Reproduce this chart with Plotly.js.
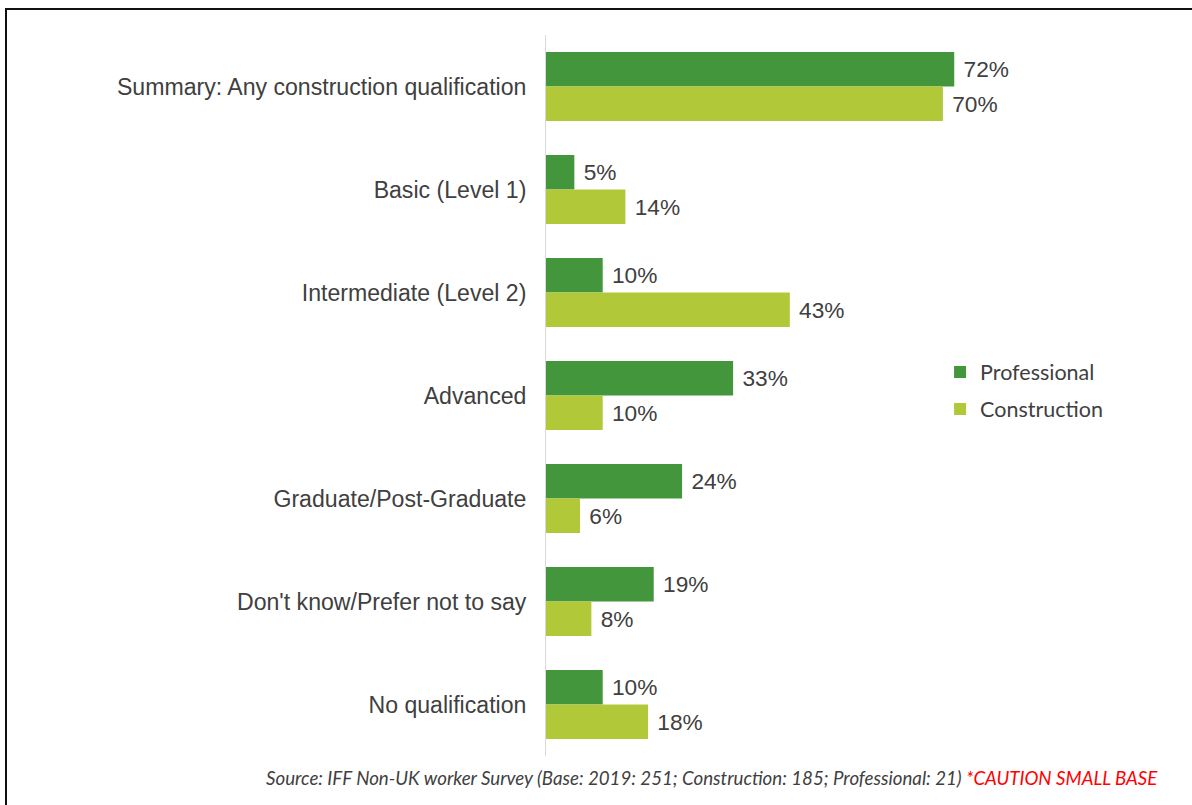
<!DOCTYPE html>
<html>
<head>
<meta charset="utf-8">
<script src="https://cdn.plot.ly/plotly-3.0.1.min.js"></script>
<style>
  html, body { margin: 0; padding: 0; background: #fff; }
  #chart { width: 1192px; height: 805px; position: absolute; left: 0; top: 0; }
  #frame { position: absolute; left: 5px; top: 8px; width: 1200px; height: 800px;
           border-left: 2px solid #111; border-top: 2px solid #111; pointer-events: none; }
</style>
</head>
<body>
<div id="chart"></div>
<div id="frame"></div>
<script>
const categories = [
  "Summary: Any construction qualification",
  "Basic (Level 1)",
  "Intermediate (Level 2)",
  "Advanced",
  "Graduate/Post-Graduate",
  "Don't know/Prefer not to say",
  "No qualification"
];
const professional = [72, 5, 10, 33, 24, 19, 10];
const construction = [70, 14, 43, 10, 6, 8, 18];
const seriesNames = ["Professional", "Construction"];
const sourceText = "Source: IFF Non-UK worker Survey (Base: 2019: 251; Construction: 185; Professional: 21)";
const cautionText = "*CAUTION SMALL BASE";

const labelFont = { family: "'Liberation Sans', Arial, sans-serif", size: 22.7, color: "#404040" };
const tickFont = { family: "'Liberation Sans', Arial, sans-serif", size: 23.1, color: "#404040" };

const traces = [
  {
    type: "bar", orientation: "h", name: seriesNames[0],
    y: categories, x: professional,
    marker: { color: "#43963b" },
    text: professional.map(v => "\u00a0" + v + "%"),
    textposition: "outside", textfont: labelFont, cliponaxis: false,
    legendgroup: "a", hoverinfo: "skip"
  },
  {
    type: "bar", orientation: "h", name: seriesNames[1],
    y: categories, x: construction,
    marker: { color: "#b1c838" },
    text: construction.map(v => "\u00a0" + v + "%"),
    textposition: "outside", textfont: labelFont, cliponaxis: false,
    legendgroup: "b", hoverinfo: "skip"
  }
];

const layout = {
  width: 1192, height: 805,
  margin: { l: 546, r: 79, t: 35, b: 49, pad: 0 },
  paper_bgcolor: "#ffffff", plot_bgcolor: "#ffffff",
  barmode: "group", bargap: 0.33, bargroupgap: 0,
  showlegend: true,
  legend: {
    x: 0.695, y: 0.507, xanchor: "left", yanchor: "middle",
    font: { family: "Lato, 'Open Sans', sans-serif", size: 21.5, color: "#404040" },
    traceorder: "grouped", tracegroupgap: 6,
    bgcolor: "rgba(0,0,0,0)", borderwidth: 0
  },
  xaxis: { range: [0, 100], visible: false, fixedrange: true },
  yaxis: {
    autorange: "reversed", type: "category",
    showline: true, linecolor: "#d9d9d9", linewidth: 1,
    showgrid: false, zeroline: false, ticks: "",
    ticklabelstandoff: 14,
    tickfont: tickFont, fixedrange: true
  },
  annotations: [
    {
      xref: "paper", yref: "paper", x: 1.0835, y: -0.03,
      xanchor: "right", yanchor: "middle", showarrow: false,
      text: "<i>" + sourceText + " <span style='color:#ff0000'>" + cautionText + "</span></i>",
      font: { family: "Lato, 'Open Sans', sans-serif", size: 18.7, color: "#404040" }
    }
  ]
};

Plotly.newPlot("chart", traces, layout, { displayModeBar: false, staticPlot: true });
</script>
</body>
</html>
